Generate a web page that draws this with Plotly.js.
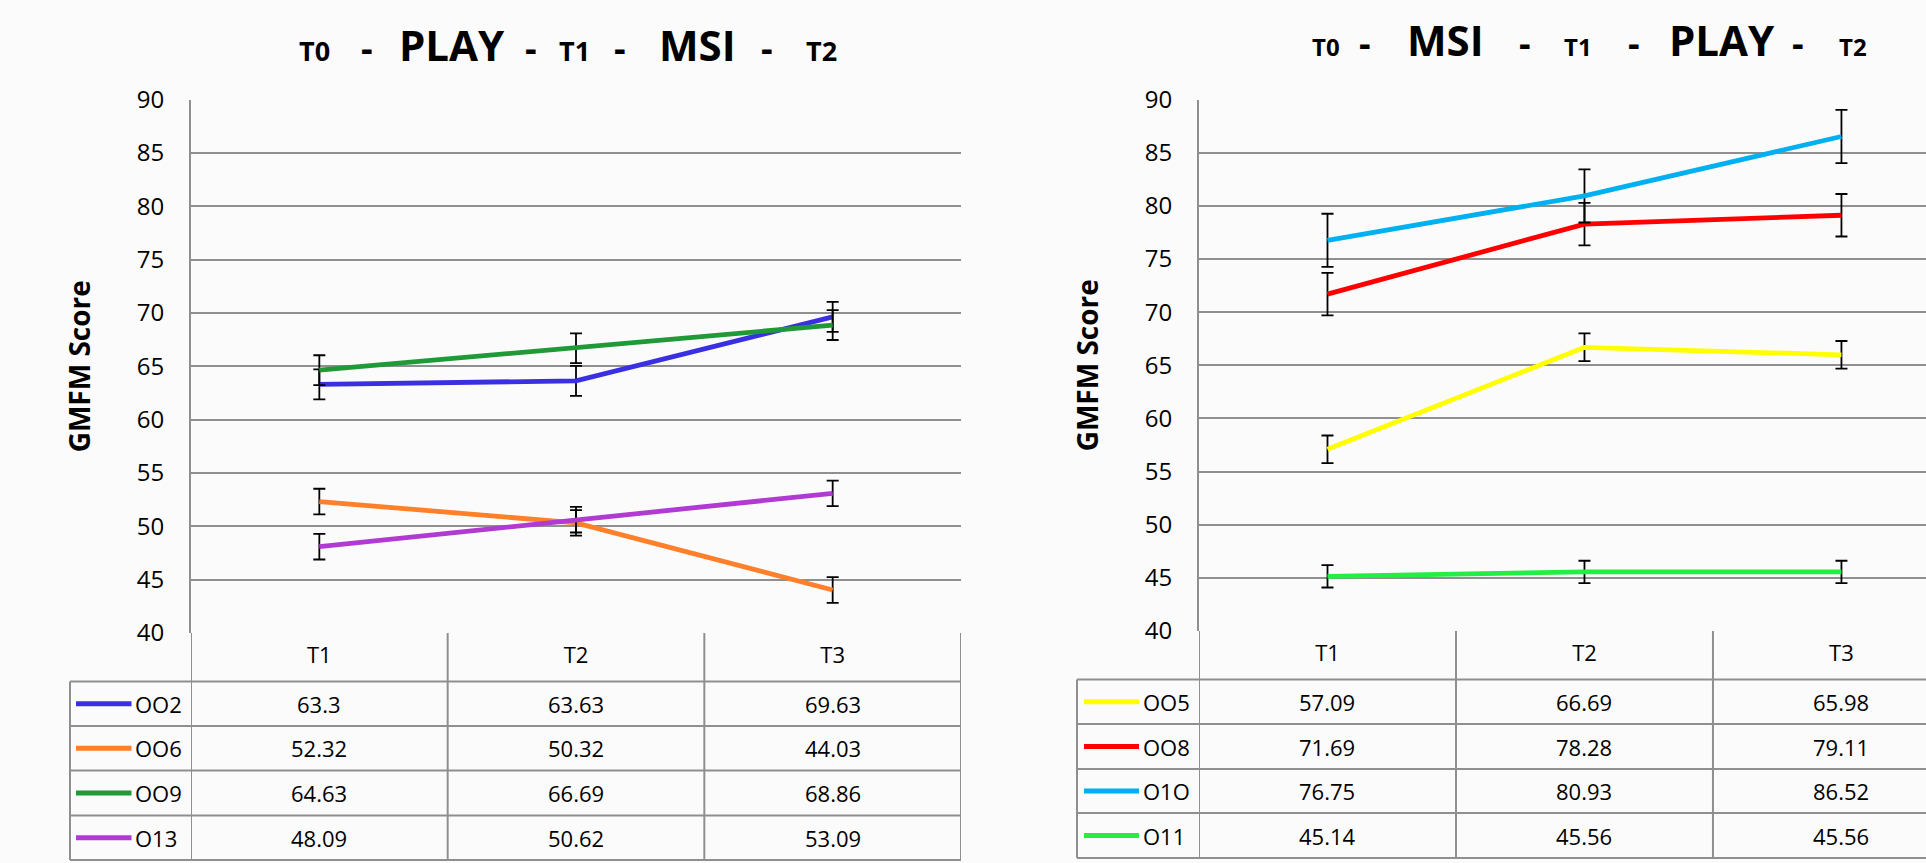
<!DOCTYPE html>
<html><head><meta charset="utf-8">
<script src="https://cdn.plot.ly/plotly-3.0.1.min.js"></script>
<style>html,body{margin:0;padding:0;background:#fbfbfb;} #chart{width:1926px;height:863px;}</style>
</head><body><div id="chart"></div>
<script>
// ---------- data ----------
const categories = ['T1', 'T2', 'T3'];

// Left panel (T0 - PLAY - T1 - MSI - T2)
const leftNames  = ['OO2', 'OO6', 'OO9', 'O13'];
const leftColors = ['#3a30e0', '#ff7f2a', '#1f9a36', '#b03ad2'];
const O02 = [63.3, 63.63, 69.63];
const O06 = [52.32, 50.32, 44.03];
const O09 = [64.63, 66.69, 68.86];
const O13 = [48.09, 50.62, 53.09];
const errO02 = [1.4, 1.4, 1.4];
const errO06 = [1.2, 1.2, 1.2];
const errO09 = [1.4, 1.4, 1.4];
const errO13 = [1.2, 1.2, 1.2];

// Right panel (T0 - MSI - T1 - PLAY - T2)
const rightNames  = ['OO5', 'OO8', 'O1O', 'O11'];
const rightColors = ['#ffff00', '#ff0000', '#00b0f0', '#22ee44'];
const O05 = [57.09, 66.69, 65.98];
const O08 = [71.69, 78.28, 79.11];
const O10 = [76.75, 80.93, 86.52];
const O11 = [45.14, 45.56, 45.56];
const errO05 = [1.3, 1.3, 1.3];
const errO08 = [2.0, 2.0, 2.0];
const errO10 = [2.5, 2.5, 2.5];
const errO11 = [1.05, 1.05, 1.05];

const yTickVals = [40, 45, 50, 55, 60, 65, 70, 75, 80, 85, 90];
const yTitle = 'GMFM Score';

const leftTitle  = [['T0','s'],['-','d'],['PLAY','b'],['-','d'],['T1','s'],['-','d'],['MSI','b'],['-','d'],['T2','s']];
const rightTitle = [['T0','s'],['-','d'],['MSI','b'],['-','d'],['T1','s'],['-','d'],['PLAY','b'],['-','d'],['T2','s']];

// ---------- layout helpers ----------
const W = 1926, H = 863;
const px = x => x / W;
const py = y => 1 - y / H;
const GRID = '#8f8f8f';
const FONT = 'Open Sans, sans-serif';
const TITLEFONT = 'Liberation Sans Narrow, Open Sans, sans-serif';

const leftSeries  = [O02, O06, O09, O13];
const leftErr     = [errO02, errO06, errO09, errO13];
const rightSeries = [O05, O08, O10, O11];
const rightErr    = [errO05, errO08, errO10, errO11];

const traces = [];
function addTraces(series, errs, names, colors, xa, ya) {
  series.forEach((vals, k) => {
    traces.push({
      type: 'scatter', mode: 'lines', x: categories, y: vals, name: names[k],
      xaxis: xa, yaxis: ya,
      line: {color: colors[k], width: 4.8},
      error_y: {type: 'data', array: errs[k], visible: true, color: '#000', thickness: 1.8, width: 6},
      hoverinfo: 'x+y+name'
    });
  });
}
addTraces(leftSeries, leftErr, leftNames, leftColors, 'x', 'y');
addTraces(rightSeries, rightErr, rightNames, rightColors, 'x2', 'y2');

const shapes = [];
const annotations = [];

function table(cfg) {
  const {xref, series, names, colors, axisBottom, rows, legLeft, right, keyX0, keyX1, labelX} = cfg;
  rows.forEach(r => shapes.push({type:'line', xref:'paper', yref:'paper', x0:px(legLeft), x1:px(right), y0:py(r), y1:py(r), line:{color:GRID, width:2}}));
  for (let i = 0; i <= categories.length; i++) {
    shapes.push({type:'line', xref:xref, yref:'paper', x0:i-0.5, x1:i-0.5, y0:py(axisBottom), y1:py(rows[rows.length-1]), line:{color:GRID, width:2}});
  }
  shapes.push({type:'line', xref:'paper', yref:'paper', x0:px(legLeft), x1:px(legLeft), y0:py(rows[0]), y1:py(rows[rows.length-1]), line:{color:GRID, width:2}});
  series.forEach((vals, k) => {
    const cy = (rows[k] + rows[k+1]) / 2;
    shapes.push({type:'line', xref:'paper', yref:'paper', x0:px(keyX0), x1:px(keyX1), y0:py(cy), y1:py(cy), line:{color:colors[k], width:4.8}});
    annotations.push({xref:'paper', yref:'paper', x:px(labelX), y:py(cy), xanchor:'left', yanchor:'middle', text:names[k], showarrow:false, font:{family:FONT, size:22, color:'#000'}});
    vals.forEach((v, i) => {
      annotations.push({xref:xref, yref:'paper', x:i, y:py(cy), xanchor:'center', yanchor:'middle', text:String(v), showarrow:false, font:{family:FONT, size:22, color:'#000'}});
    });
  });
}
table({xref:'x', series:leftSeries, names:leftNames, colors:leftColors, axisBottom:633,
       rows:[681.5, 726, 770.5, 815.5, 860], legLeft:70, right:961, keyX0:76, keyX1:131.5, labelX:133});
table({xref:'x2', series:rightSeries, names:rightNames, colors:rightColors, axisBottom:631,
       rows:[679.5, 724, 769, 813, 858], legLeft:1077, right:1926, keyX0:1084, keyX1:1139, labelX:1141});

function titleTokens(tokens, centers, baseline, sizes) {
  tokens.forEach((t, i) => {
    const size = sizes[t[1]];
    annotations.push({xref:'paper', yref:'paper', x:px(centers[i]), y:py(baseline - 0.36*size), xanchor:'center', yanchor:'middle',
      text:t[0], showarrow:false, font:{family:TITLEFONT, size:size, color:'#000', weight:'bold'}});
  });
}
titleTokens(leftTitle,  [314, 367, 452, 531, 574.5, 620, 697, 767, 821.5], 60, {s:27, d:36, b:42});
titleTokens(rightTitle, [1326, 1365, 1445, 1525, 1577.5, 1634, 1721.5, 1798, 1852.5], 55, {s:24, d:36, b:42});

function yAxis(dom, anchor) {
  return {domain: dom, anchor: anchor, range: [40, 90], tickvals: yTickVals, showgrid: true, gridcolor: GRID, gridwidth: 2,
    zeroline: false, showline: true, linecolor: GRID, linewidth: 2, ticks: '', ticklabelstandoff: 20,
    tickfont: {family: FONT, size: 24, color: '#000'},
    title: {text: yTitle, font: {family: FONT, size: 28, color: '#000', weight: 'bold'}, standoff: 38}, fixedrange: true};
}
function xAxis(dom, anchor, range) {
  return {domain: dom, anchor: anchor, type: 'category', range: range, showgrid: false, zeroline: false, showline: false,
    ticks: '', ticklabelstandoff: 7, tickfont: {family: FONT, size: 22, color: '#000'}, fixedrange: true};
}

const layout = {
  width: W, height: H, margin: {l: 0, r: 0, t: 0, b: 0},
  paper_bgcolor: '#fbfbfb', plot_bgcolor: '#fbfbfb', showlegend: false,
  xaxis:  xAxis([px(191), px(961)], 'y', [-0.5, 2.5]),
  yaxis:  yAxis([py(633), py(99.5)], 'x'),
  xaxis2: xAxis([px(1199), 1], 'y2', [-0.5, 2.329]),
  yaxis2: yAxis([py(631), py(99.5)], 'x2'),
  shapes: shapes, annotations: annotations
};
Plotly.newPlot('chart', traces, layout, {displayModeBar: false, staticPlot: true});
</script></body></html>
